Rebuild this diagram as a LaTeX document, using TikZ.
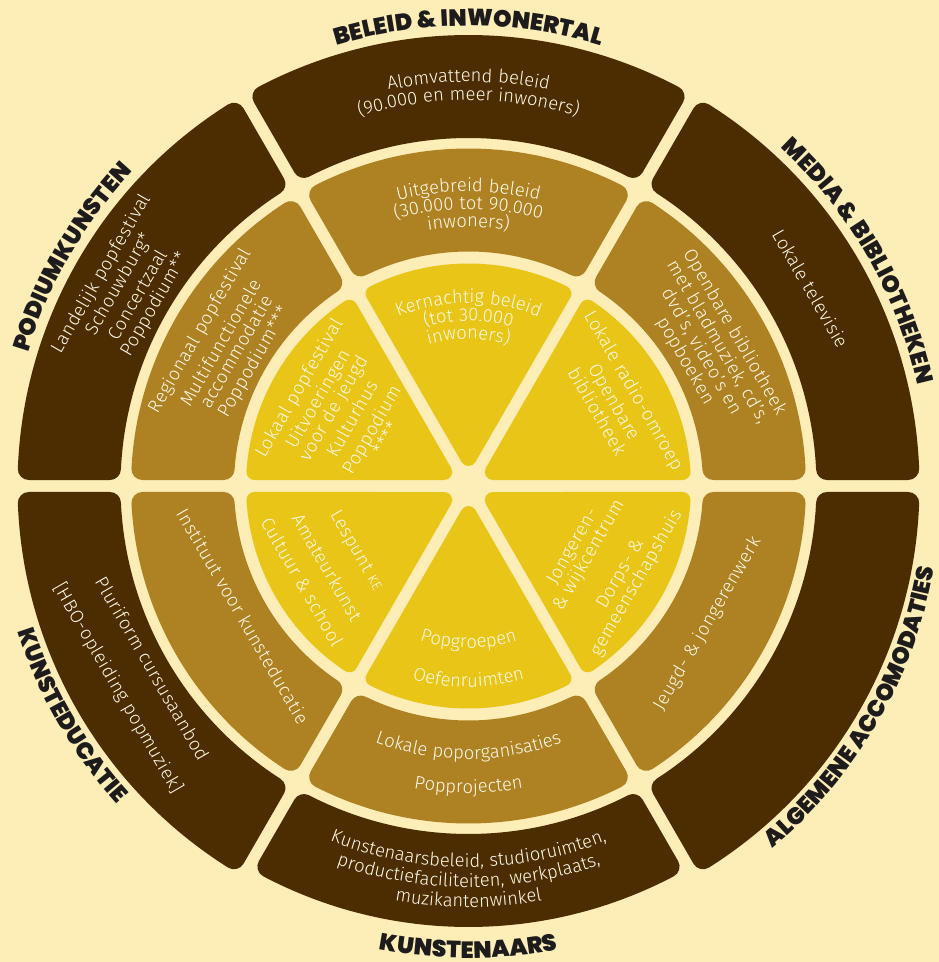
\documentclass[tikz,border=0pt]{standalone}
\usepackage{fontspec}
\setmainfont{Fira Sans Light}[LetterSpace=3]
\newfontfamily\titlef{Poppins Black}
\usetikzlibrary{decorations.text}
\definecolor{bgc}{RGB}{253,237,182}
\definecolor{darkc}{RGB}{76,45,2}
\definecolor{midc}{RGB}{174,130,35}
\definecolor{innc}{RGB}{232,197,22}
\definecolor{txtc}{RGB}{255,250,236}
\definecolor{ttlc}{RGB}{30,27,28}
\newcommand\bfnt{\fontsize{18.4}{21}\selectfont}
\newcommand\ctf{\color{txtc}\bfnt}
\newcommand\tlf{\color{ttlc}\titlef\fontsize{23.5}{24}\selectfont}
\newcommand\sgap{6}
% annular sector: #1 colour, #2 a1, #3 a2, #4 r in, #5 r out, #6 corner radius
\newcommand\ringsec[6]{%
 \pgfmathsetmacro\sro{#5-#6}%
 \pgfmathsetmacro\sri{#4+#6}%
 \pgfmathsetmacro\shh{\sgap+#6}%
 \pgfmathsetmacro\saa{#2+asin(\shh/\sro)}%
 \pgfmathsetmacro\sab{#3-asin(\shh/\sro)}%
 \pgfmathsetmacro\sac{#3-asin(\shh/\sri)}%
 \pgfmathsetmacro\sad{#2+asin(\shh/\sri)}%
 \filldraw[#1, line width={2*#6pt}, line join=round] (\saa:\sro pt) arc[start angle=\saa, end angle=\sab, radius=\sro pt] -- (\sac:\sri pt) arc[start angle=\sac, end angle=\sad, radius=\sri pt] -- cycle;}
% wedge: #1 colour, #2 a1, #3 a2, #4 r out, #5 corner radius
\newcommand\wedgesec[5]{%
 \pgfmathsetmacro\sro{#4-#5}%
 \pgfmathsetmacro\shh{\sgap+#5}%
 \pgfmathsetmacro\saa{#2+asin(\shh/\sro)}%
 \pgfmathsetmacro\sab{#3-asin(\shh/\sro)}%
 \pgfmathsetmacro\stip{2*\shh}%
 \pgfmathsetmacro\smid{(#2+#3)/2}%
 \filldraw[#1, line width={2*#5pt}, line join=round] (\smid:\stip pt) -- (\saa:\sro pt) arc[start angle=\saa, end angle=\sab, radius=\sro pt] -- cycle;}
% curved text, tops outward (#1 centre angle, #2 radius, #3 format, #4 text)
\newcommand\arctop[4]{\path[decorate,decoration={text along path,text align=center,text={|#3|#4}}] ({#1+70}:#2pt) arc[start angle={#1+70},end angle={#1-70},radius=#2pt];}
% curved text, tops inward
\newcommand\arcbot[4]{\path[decorate,decoration={text along path,text align=center,text={|#3|#4}}] ({#1-70}:#2pt) arc[start angle={#1-70},end angle={#1+70},radius=#2pt];}
\tikzset{sl/.style={text=txtc, font=\bfnt, inner sep=0pt}}
\begin{document}
\begin{tikzpicture}[x=1pt,y=1pt]
\fill[bgc] (-468.5,-476) rectangle (470.5,486);
\useasboundingbox (-468.5,-476) rectangle (470.5,486);
% outer ring
\ringsec{darkc}{60}{120}{348}{451}{11}
\ringsec{darkc}{120}{180}{348}{451}{11}
\ringsec{darkc}{180}{240}{348}{451}{11}
\ringsec{darkc}{240}{300}{348}{441}{11}
\ringsec{darkc}{300}{360}{348}{451}{11}
\ringsec{darkc}{0}{60}{348}{451}{11}
% middle ring
\ringsec{midc}{60}{120}{234.5}{337.5}{11}
\ringsec{midc}{120}{180}{234.5}{337.5}{11}
\ringsec{midc}{180}{240}{234.5}{337.5}{11}
\ringsec{midc}{240}{300}{234.5}{337.5}{11}
\ringsec{midc}{300}{360}{234.5}{337.5}{11}
\ringsec{midc}{0}{60}{234.5}{337.5}{11}
% inner wedges
\wedgesec{innc}{60}{120}{222.5}{8}
\wedgesec{innc}{120}{180}{222.5}{8}
\wedgesec{innc}{180}{240}{222.5}{8}
\wedgesec{innc}{240}{300}{222.5}{8}
\wedgesec{innc}{300}{360}{222.5}{8}
\wedgesec{innc}{0}{60}{222.5}{8}
% titles
\arctop{90}{460}{\tlf}{BELEID {\&} INWONERTAL}
\arctop{30}{460}{\tlf}{MEDIA {\&} BIBLIOTHEKEN}
\arctop{150}{460}{\tlf}{PODIUMKUNSTEN}
\arcbot{210}{474}{\tlf}{KUNSTEDUCATIE}
\arcbot{270}{472}{\tlf}{KUNSTENAARS}
\arcbot{330}{473}{\tlf}{ALGEMENE ACCOMODATIES}
% top sectors
\arctop{90}{404}{\ctf}{Alomvattend beleid}
\arctop{90}{385.5}{\ctf}{(90.000 en meer inwoners)}
\arctop{90}{294.3}{\ctf}{Uitgebreid beleid}
\arctop{90}{276.7}{\ctf}{(30.000 tot 90.000}
\arctop{90}{259}{\ctf}{inwoners)}
\arctop{90}{183}{\ctf}{Kernachtig beleid}
\arctop{90}{165}{\ctf}{(tot 30.000}
\arctop{90}{147}{\ctf}{inwoners)}
% bottom sectors
\arcbot{270}{381}{\ctf}{Kunstenaarsbeleid, studioruimten,}
\arcbot{270}{401}{\ctf}{productiefaciliteiten, werkplaats,}
\arcbot{270}{421}{\ctf}{muzikantenwinkel}
\arcbot{270}{273}{\ctf}{Lokale poporganisaties}
\arcbot{270}{307}{\ctf}{Popprojecten}
\arcbot{270}{162}{\ctf}{Popgroepen}
\arcbot{270}{201}{\ctf}{Oefenruimten}
% upper left
\node[sl, rotate=60] (ul1) at (150:424pt) {Landelijk popfestival};
\node[sl, rotate=60] (ul2) at (150:403.5pt) {Schouwburg*};
\node[sl, rotate=60] (ul3) at (150:383pt) {Concertzaal};
\node[sl, rotate=60] (ul4) at (150:362.5pt) {Poppodium**};
\node[sl, rotate=60] (ulm1) at (150:310pt) {Regionaal popfestival};
\node[sl, rotate=60] (ulm2) at (150:287pt) {Multifunctionele};
\node[sl, rotate=60] (ulm3) at (150:269pt) {accommodatie};
\node[sl, rotate=60] (ulm4) at (150:247.5pt) {Poppodium***};
\node[sl, rotate=60] (uli1) at (150:195pt) {Lokaal popfestival};
\node[sl, rotate=60] (uli2) at (150:173pt) {Uitvoeringen};
\node[sl, rotate=60] (uli3) at (150:155pt) {voor de jeugd};
\node[sl, rotate=60] (uli4) at (150:135pt) {Kulturhus};
\node[sl, rotate=60] (uli5) at (150:111pt) {Poppodium};
\node[sl, rotate=60] (uli6) at (150:96pt) {****};
% upper right
\node[sl, rotate=-60] (ur1) at (30:395pt) {Lokale televisie};
\node[sl, rotate=-60] (urm1) at (30:307pt) {Openbare bibliotheek};
\node[sl, rotate=-60] (urm2) at (30:288pt) {met bladmuziek, cd’s,};
\node[sl, rotate=-60] (urm3) at (30:269pt) {dvd’s, video’s en};
\node[sl, rotate=-60] (urm4) at (30:250pt) {popboeken};
\node[sl, rotate=-60] (uri1) at (30:190pt) {Lokale radio-omroep};
\node[sl, rotate=-60] (uri2) at (30:167pt) {Openbare};
\node[sl, rotate=-60] (uri3) at (30:149pt) {bibliotheek};
% lower left
\node[sl, rotate=-60] (ll1) at (210:365pt) {Pluriform cursusaanbod};
\node[sl, rotate=-60] (ll2) at (210:405pt) {[HBO-opleiding popmuziek]};
\node[sl, rotate=-60] (llm1) at (210:260.5pt) {Instituut voor kunsteducatie};
\node[sl, rotate=-60] (lli1) at (210:130pt) {Lespunt {\fontsize{14}{14}\selectfont KE}};
\node[sl, rotate=-60] (lli2) at (210:163pt) {Amateurkunst};
\node[sl, rotate=-60] (lli3) at (210:192pt) {Cultuur \& school};
% lower right
\node[sl, rotate=60] (lrm1) at (330:276pt) {Jeugd- \& jongerenwerk};
\node[sl, rotate=60] (lri1) at (330:121pt) {Jongeren-};
\node[sl, rotate=60] (lri2) at (330:139pt) {\& wijkcentrum};
\node[sl, rotate=60] (lri3) at (330:176pt) {Dorps- \&};
\node[sl, rotate=60] (lri4) at (330:194pt) {gemeenschapshuis};
\end{tikzpicture}
\end{document}
